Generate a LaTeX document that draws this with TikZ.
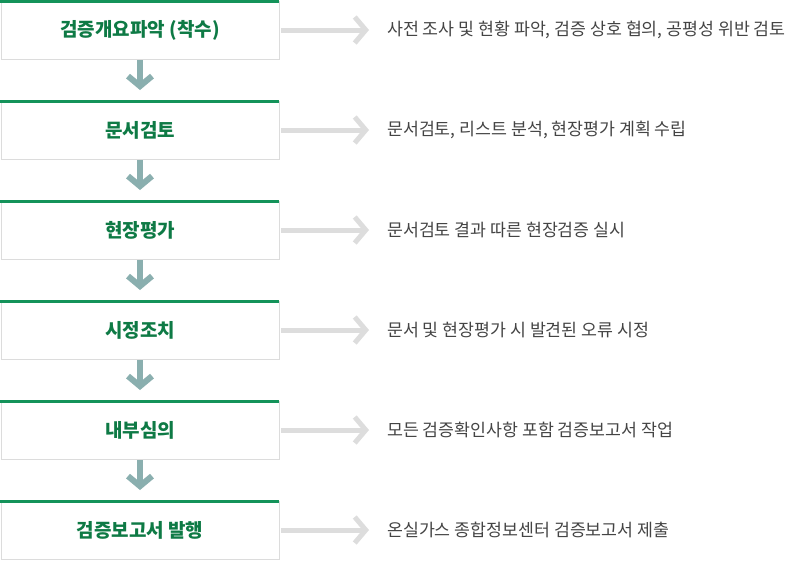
\documentclass[tikz,border=0pt]{standalone}
\usepackage{fontspec}
\setmainfont{Noto Sans CJK KR}
\definecolor{grn}{HTML}{14935A}
\definecolor{tgrn}{HTML}{0E7A45}
\definecolor{bord}{HTML}{DCDCDC}
\definecolor{darr}{HTML}{8AAFAF}
\definecolor{rarr}{HTML}{DDDDDD}
\definecolor{txt}{HTML}{444444}
\usetikzlibrary{arrows.meta}
\tikzset{
  stepbox/.style={draw=bord, line width=1pt, minimum width=278pt, minimum height=58pt, inner sep=0pt, anchor=north west, font=\bfseries\fontsize{19}{22}\selectfont, text=tgrn},
  desc/.style={anchor=west, font=\fontsize{17.3}{20}\selectfont, text=txt, inner sep=0pt},
  downarr/.style={draw=darr, line width=6pt, -{Straight Barb[length=10pt,width=24pt,line width=6pt]}},
  rightarr/.style={draw=rarr, line width=5pt, -{Straight Barb[length=11pt,width=26pt,line width=5pt]}},
}
\begin{document}
\begin{tikzpicture}[x=1pt,y=-1pt]
\useasboundingbox (0,0) rectangle (792,560);
\foreach \i/\t/\d in {0/검증개요파악 (착수)/사전 조사 및 현황 파악{,} 검증 상호 협의{,} 공평성 위반 검토,
  1/문서검토/문서검토{,} 리스트 분석{,} 현장평가 계획 수립,
  2/현장평가/문서검토 결과 따른 현장검증 실시,
  3/시정조치/문서 및 현장평가 시 발견된 오류 시정,
  4/내부심의/모든 검증확인사항 포함 검증보고서 작업,
  5/검증보고서 발행/온실가스 종합정보센터 검증보고서 제출}{
  \node[stepbox] (b\i) at (0.5,{100*\i+1}) {\t};
  \fill[grn] (0,{100*\i}) rectangle (279,{100*\i+3});
  \node[desc] (d\i) at (387,{100*\i+30}) {\d};
  \coordinate (rs\i) at (281,{100*\i+30});
  \coordinate (re\i) at (369,{100*\i+30});
  \draw[rightarr] (rs\i) -- (re\i);
}
\foreach \i in {0,...,4}{
  \draw[downarr] (b\i.south) -- ++(0,30);
}
\end{tikzpicture}
\end{document}
